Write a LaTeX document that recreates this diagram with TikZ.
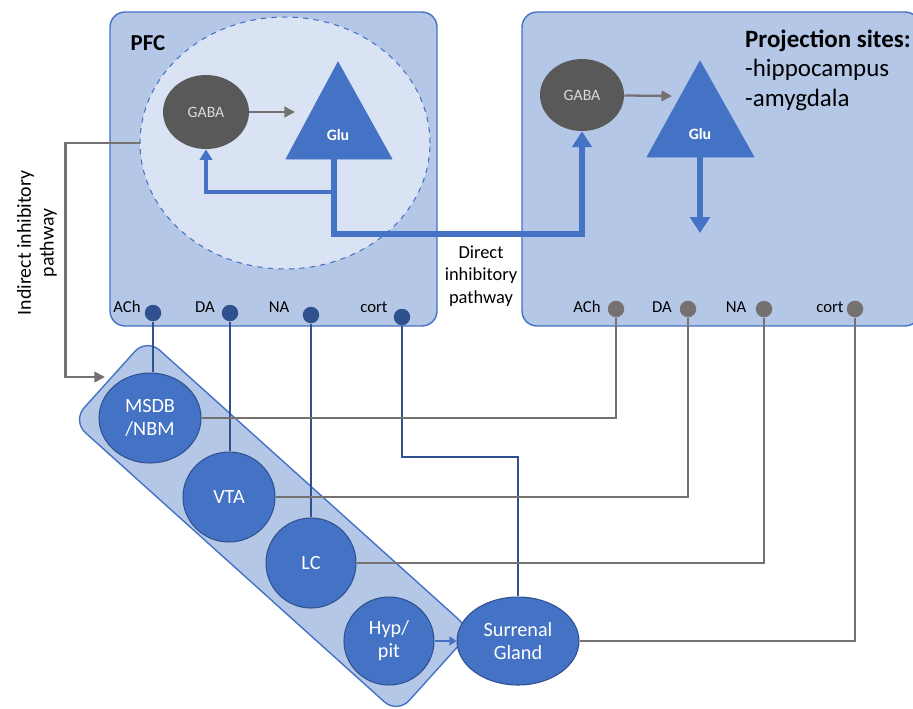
\documentclass[tikz,border=0pt]{standalone}
\usepackage{fontspec}
\setmainfont{Carlito}
\usetikzlibrary{shapes.geometric,arrows.meta,positioning}
\definecolor{boxfill}{HTML}{B4C7E7}
\definecolor{infill}{HTML}{DAE3F3}
\definecolor{midblue}{HTML}{4472C4}
\definecolor{darkblue}{HTML}{2F528F}
\definecolor{lgrey}{HTML}{767171}
\definecolor{gabafill}{HTML}{595959}
\begin{document}
\begin{tikzpicture}[x=0.02cm,y=-0.02cm,
  box/.style={draw=midblue, fill=boxfill, line width=0.8pt, rounded corners=0.3cm, minimum height=6.28cm},
  nucleus/.style={ellipse, draw=darkblue, fill=midblue, line width=0.6pt, inner sep=0pt, text=white, align=center, font=\fontsize{11.5}{13}\selectfont},
  gaba/.style={ellipse, fill=gabafill, inner sep=0pt, text=black!15, font=\fontsize{9}{11}\selectfont},
  glu/.style={draw=midblue, fill=midblue, line join=round},
  glutext/.style={text=white, font=\bfseries\fontsize{9}{11}\selectfont},
  tdot/.style={circle, fill=#1, inner sep=0pt, minimum size=0.33cm},
  tlabel/.style={font=\fontsize{9.5}{11}\selectfont},
  bline/.style={draw=darkblue, line width=1.2pt},
  gline/.style={draw=lgrey, line width=1.3pt},
  thickarrow/.style={draw=midblue, line width=3.4pt, -{Triangle[length=9pt,width=11pt]}},
  path label/.style={align=center, font=\fontsize{10.5}{13}\selectfont}]
\useasboundingbox (0,0) rectangle (913,708);

\node[box, minimum width=6.54cm] (pfc) at (273.5,169) {};
\node[box, minimum width=7.96cm] (proj) at (721,169) {};
\node[ellipse, draw=midblue, dashed, fill=infill, line width=0.6pt, minimum width=5.8cm, minimum height=5.04cm] (pfcin) at (285,143) {};
\node[font=\bfseries\fontsize{13}{15}\selectfont] (pfclabel) at (148,43) {PFC};
\node[align=left, anchor=north west, font=\fontsize{14.2}{16.6}\selectfont] (sites) at (739,24) {\textbf{Projection sites:}\\-hippocampus\\-amygdala};

\node[gaba, minimum width=1.72cm, minimum height=1.48cm] (gabaL) at (206,112) {GABA};
\filldraw[glu] (338,62) -- (392,159) -- (286,159) -- cycle;
\node[glutext] (gluL) at (338,135) {Glu};
\node[gaba, minimum width=1.68cm, minimum height=1.44cm] (gabaR) at (582,95) {GABA};
\filldraw[glu] (700,61) -- (754,157) -- (647,157) -- cycle;
\node[glutext] (gluR) at (700,134) {Glu};

\draw[gline, -{Triangle[length=6pt,width=6pt]}] (gabaL) -- (295,112);
\draw[gline, -{Triangle[length=6pt,width=6pt]}] (gabaR) -- (672,96);

\coordinate (gluLb) at (334,159);
\coordinate (branch) at (334,192);
\coordinate (gluRb) at (700,157);
\coordinate (gluRout) at (700,233);
\draw[midblue, line width=1.8pt, -{Triangle[length=6pt,width=7pt]}] (branch) -| (gabaL.south);
\draw[thickarrow] (gluLb) -- (334,234) -| (gabaR.south);
\draw[thickarrow] (gluRb) -- (gluRout);

\node[path label] (direct) at (481,276) {Direct\\inhibitory\\pathway};
\node[path label, font=\fontsize{11.3}{13}\selectfont, rotate=90] (indirect) at (37,243) {Indirect inhibitory\\pathway};

\node[tlabel] at (127,307) {ACh};
\node[tlabel] at (205,307) {DA};
\node[tlabel] at (279,307) {NA};
\node[tlabel] at (374,307) {cort};
\node[tdot=darkblue] (achL) at (153,313) {};
\node[tdot=darkblue] (daL) at (230,313) {};
\node[tdot=darkblue] (naL) at (311,315) {};
\node[tdot=darkblue] (cortL) at (402,317) {};

\node[tlabel] at (587,307) {ACh};
\node[tlabel] at (662,307) {DA};
\node[tlabel] at (736,307) {NA};
\node[tlabel] at (830,307) {cort};
\node[tdot=lgrey] (achR) at (616,309) {};
\node[tdot=lgrey] (daR) at (688,309) {};
\node[tdot=lgrey] (naR) at (764,309) {};
\node[tdot=lgrey] (cortR) at (855,309) {};

\node[draw=midblue, fill=boxfill, line width=0.8pt, rounded corners=0.35cm, rotate=-42, minimum width=8.75cm, minimum height=2.22cm] (band) at (272,526) {};
\node[nucleus, minimum width=2.04cm, minimum height=1.8cm] (msdb) at (150,418) {MSDB\\/NBM};
\node[nucleus, minimum width=1.84cm, minimum height=1.8cm] (vta) at (229,497) {VTA};
\node[nucleus, minimum width=1.8cm, minimum height=1.8cm] (lc) at (311,563) {LC};
\node[nucleus, minimum width=1.8cm, minimum height=1.76cm] (hyp) at (389,641) {Hyp/\\pit};
\node[nucleus, minimum width=2.44cm, minimum height=1.76cm] (surr) at (518,641) {Surrenal\\Gland};

\coordinate (indEnd) at (105,377);
\draw[gline, -{Triangle[length=6pt,width=6pt]}] (pfcin.west) -- ++(-74,0) |- (indEnd);

\draw[bline] (achL) -- (achL |- msdb.north);
\draw[bline] (daL) -- (daL |- vta.north);
\draw[bline] (naL) -- (naL |- lc.north);
\draw[bline] (cortL) -- (cortL |- 0,457) -| (surr);
\draw[midblue, line width=1.2pt, -{Triangle[length=4pt,width=5pt]}] (hyp) -- (surr);

\draw[gline] (achR) |- (msdb);
\draw[gline] (daR) |- (vta);
\draw[gline] (naR) |- (lc);
\draw[gline] (cortR) |- (surr);
\end{tikzpicture}
\end{document}
